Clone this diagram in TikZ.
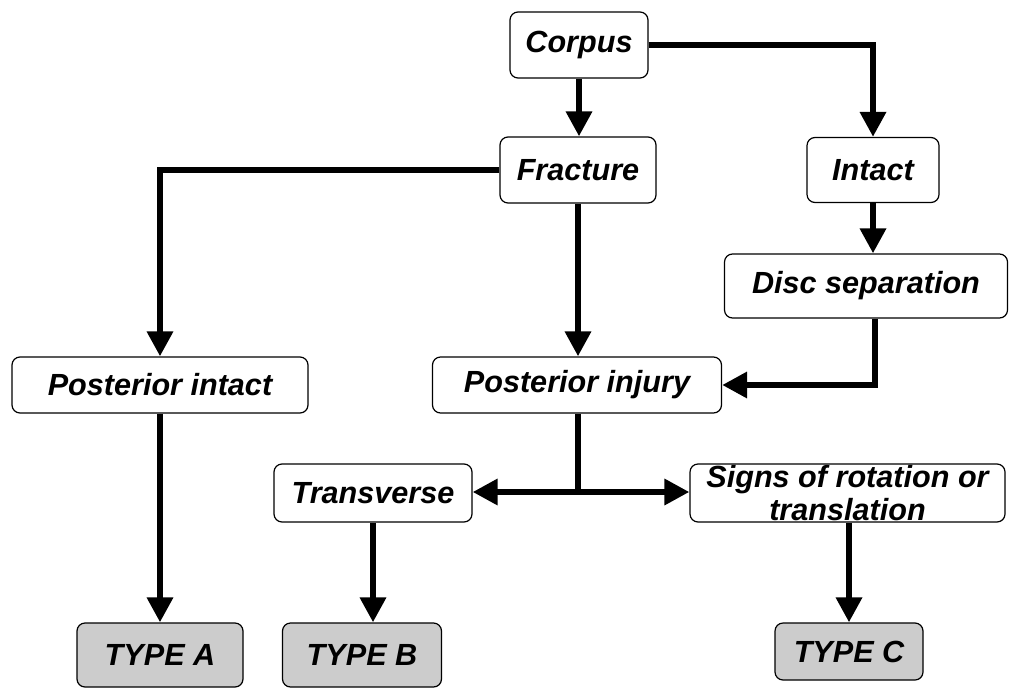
\documentclass[tikz,border=0pt]{standalone}
\usepackage{fontspec}
\setmainfont{Liberation Sans}
\usetikzlibrary{arrows.meta,calc}
\tikzset{
  box/.style={draw=black, line width=1.2pt, rounded corners=8pt, fill=white, align=center,
    font=\fontsize{30.6}{33}\selectfont\bfseries\itshape, inner sep=0pt},
  typebox/.style={box, fill=black!20},
  arr/.style={line width=6.5pt, -{Triangle[length=25pt,width=25pt]}},
  ln/.style={line width=6.5pt}
}
\begin{document}
\begin{tikzpicture}[x=1pt,y=-1pt]
\useasboundingbox (0,0) rectangle (1011,688);
\clip (0,0) rectangle (1011,688);
\node[box, minimum width=138pt, minimum height=66pt] (corpus) at (579,45) {Corpus};
\node[box, minimum width=156pt, minimum height=66pt] (fracture) at (578,170) {Fracture};
\node[box, minimum width=132pt, minimum height=65pt] (intact) at (873,170) {Intact};
\node[box, minimum width=283pt, minimum height=64pt] (disc) at (866,286) {Disc separation};
\node[box, minimum width=296pt, minimum height=56pt] (pint) at (160,385) {Posterior intact};
\node[box, minimum width=289pt, minimum height=56pt] (pinj) at (577,385) {Posterior injury};
\node[box, minimum width=198pt, minimum height=58pt] (trans) at (373,493) {Transverse};
\node[box, minimum width=315pt, minimum height=58pt] (signs) at (847.5,493) {Signs of rotation or\\translation};
\node[typebox, minimum width=166pt, minimum height=64pt] (typea) at (160,655) {TYPE A};
\node[typebox, minimum width=159pt, minimum height=64pt] (typeb) at (362,655) {TYPE B};
\node[typebox, minimum width=148pt, minimum height=57pt] (typec) at (849,651.5) {TYPE C};
\coordinate (br) at (578,492);
\coordinate (dd) at (875,0);
\draw[arr] (corpus.east) -| (intact.north);
\draw[arr] (corpus.south) -- (corpus.south |- fracture.north);
\draw[arr] (fracture.west) -| (pint.north);
\draw[arr] (fracture.south) -- (fracture.south |- pinj.north);
\draw[arr] (intact.south) -- (intact.south |- disc.north);
\draw[arr] (disc.south -| dd) |- (pinj.east);
\draw[ln] (pinj.south -| br) -- (br);
\draw[arr] (br) -- (br -| trans.east);
\draw[arr] (br) -- (br -| signs.west);
\draw[arr] (pint.south) -- (pint.south |- typea.north);
\draw[arr] (trans.south) -- (trans.south |- typeb.north);
\draw[arr] (signs.south -| typec) -- (typec.north);
\end{tikzpicture}
\end{document}
